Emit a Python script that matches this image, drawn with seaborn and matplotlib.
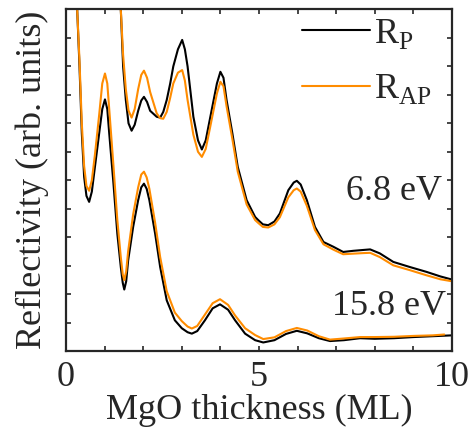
import matplotlib
matplotlib.use("Agg")
from matplotlib import pyplot as plt
from matplotlib.ticker import MultipleLocator
import seaborn as sb

# 6.8 eV curves (upper)
x_68 = [1.38, 1.42, 1.48, 1.55, 1.62, 1.70, 1.78, 1.87, 1.95, 2.02, 2.10, 2.18, 2.35, 2.44, 2.52,
        2.61, 2.70, 2.78, 2.90, 3.01, 3.08, 3.15, 3.30, 3.42, 3.52, 3.62, 3.74, 3.91, 4.00, 4.08,
        4.16, 4.31, 4.45, 4.68, 4.90, 4.98, 5.10, 5.24, 5.40, 5.54, 5.76, 5.90, 5.98, 6.08, 6.24,
        6.45, 6.67, 6.93, 7.18, 7.44, 7.70, 7.88, 8.13, 8.48, 8.91, 9.34, 9.70, 10.0]
rp_68 = [13.5, 12.0, 10.0, 8.82, 8.0, 7.74, 7.95, 8.44, 8.8, 8.93, 8.75, 8.44, 8.23, 8.2, 8.4,
         8.82, 9.4, 10.0, 10.6, 10.93, 10.6, 10.0, 8.23, 7.4, 7.08, 7.4, 8.23, 9.4, 9.81, 9.6,
         8.82, 7.65, 6.47, 5.3, 4.71, 4.6, 4.45, 4.42, 4.55, 4.83, 5.65, 5.92, 5.98, 5.85, 5.3,
         4.36, 3.83, 3.66, 3.48, 3.52, 3.55, 3.57, 3.43, 3.13, 2.95, 2.78, 2.62, 2.51]
rap_68 = [13.5, 12.0, 10.4, 9.2, 8.45, 8.2, 8.5, 9.2, 9.7, 9.85, 9.6, 9.1, 8.35, 8.18, 8.16,
          8.4, 8.9, 9.4, 9.78, 9.87, 9.5, 8.82, 7.6, 7.0, 6.82, 7.1, 7.9, 9.05, 9.46, 9.3,
          8.6, 7.45, 6.3, 5.15, 4.6, 4.5, 4.36, 4.34, 4.45, 4.7, 5.4, 5.65, 5.71, 5.6, 5.1,
          4.25, 3.75, 3.56, 3.4, 3.42, 3.44, 3.45, 3.3, 3.01, 2.84, 2.66, 2.52, 2.45]

# 15.8 eV curves (lower)
x_158 = [0.25, 0.29, 0.35, 0.41, 0.47, 0.53, 0.60, 0.67, 0.75, 0.86, 0.94, 1.01, 1.07, 1.12,
         1.23, 1.33, 1.42, 1.47, 1.51, 1.56, 1.61, 1.74, 1.87, 1.95, 2.02, 2.09, 2.16, 2.31,
         2.44, 2.61, 2.82, 3.0, 3.15, 3.26, 3.4, 3.6, 3.8, 3.99, 4.2, 4.38, 4.64, 4.9, 5.11,
         5.4, 5.7, 5.98, 6.25, 6.55, 6.84, 7.2, 7.62, 8.0, 8.5, 9.0, 9.5, 10.0]
x_158_ap = x_158[:-1] + [9.8]
rp_158 = [13.5, 12.0, 10.0, 7.65, 6.12, 5.45, 5.24, 5.6, 6.47, 7.65, 8.5, 8.84, 8.5, 7.65,
          5.88, 4.12, 2.95, 2.4, 2.16, 2.45, 3.18, 4.36, 5.3, 5.75, 5.88, 5.7, 5.3, 4.12,
          2.95, 1.78, 1.08, 0.8, 0.66, 0.61, 0.7, 1.08, 1.5, 1.64, 1.45, 1.08, 0.61, 0.38, 0.3,
          0.38, 0.6, 0.71, 0.62, 0.45, 0.35, 0.38, 0.45, 0.43, 0.45, 0.49, 0.52, 0.55]
rap_158 = [13.5, 12.0, 10.2, 8.0, 6.5, 5.8, 5.63, 6.0, 6.9, 8.3, 9.4, 9.75, 9.4, 8.5,
           6.5, 4.6, 3.3, 2.7, 2.49, 2.8, 3.5, 4.8, 5.75, 6.2, 6.3, 6.1, 5.7, 4.5,
           3.3, 2.1, 1.35, 1.05, 0.86, 0.79, 0.88, 1.28, 1.68, 1.82, 1.62, 1.25, 0.8, 0.56, 0.42,
           0.48, 0.7, 0.81, 0.72, 0.52, 0.4, 0.44, 0.49, 0.49, 0.5, 0.53, 0.55, 0.58]

sb.set_theme(style="ticks")
plt.rcParams['font.family'] = ['Liberation Serif', 'DejaVu Serif']
plt.rcParams['mathtext.fontset'] = 'custom'
plt.rcParams['mathtext.rm'] = 'Liberation Serif'

black = '#000000'
orange = '#ff8c00'
fs = 26

fig = plt.figure(figsize=(4.73, 4.30), dpi=100)
ax = fig.add_axes([0.1395, 0.1837, 0.8161, 0.7943])

sb.lineplot(x=x_68, y=rp_68, color=black, lw=1.5, sort=False, estimator=None, ax=ax, label=r'R$_{\mathrm{P}}$')
sb.lineplot(x=x_68, y=rap_68, color=orange, lw=1.5, sort=False, estimator=None, ax=ax, label=r'R$_{\mathrm{AP}}$')
sb.lineplot(x=x_158, y=rp_158, color=black, lw=1.5, sort=False, estimator=None, ax=ax)
sb.lineplot(x=x_158_ap, y=rap_158, color=orange, lw=1.5, sort=False, estimator=None, ax=ax)

ax.set_xlim(0, 10)
ax.set_ylim(0, 12)
ax.xaxis.set_major_locator(MultipleLocator(5))
ax.xaxis.set_minor_locator(MultipleLocator(1))
ax.yaxis.set_major_locator(MultipleLocator(1))
ax.tick_params(which='both', direction='in', top=True, right=True, length=3.5, width=1.2,
               labelleft=False, labelsize=fs, pad=7)
for s in ax.spines.values():
    s.set_linewidth(1.6)

ax.set_xlabel('MgO thickness (ML)', fontsize=fs, labelpad=0)
ax.set_ylabel('Reflectivity (arb. units)', fontsize=fs, labelpad=12)

ax.text(9.74, 5.62, '6.8 eV', fontsize=fs, ha='right', va='center')
ax.text(9.84, 1.57, '15.8 eV', fontsize=fs, ha='right', va='center')

ax.legend(frameon=False, loc='upper right', bbox_to_anchor=(0.966, 1.0), fontsize=fs,
          handlelength=1.9, handletextpad=0.1, labelspacing=0.6, borderaxespad=0.0, borderpad=0.2)

fig.savefig('out.png', dpi=100)
